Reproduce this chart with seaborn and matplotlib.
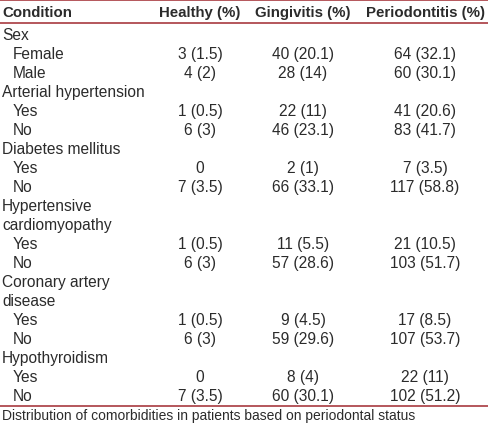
import matplotlib
matplotlib.use("Agg")
import matplotlib.pyplot as plt
import seaborn as sns

# table content
columns = ["Condition", "Healthy (%)", "Gingivitis (%)", "Periodontitis (%)"]
conditions = ["Sex", "Arterial hypertension", "Diabetes mellitus",
              "Hypertensive\ncardiomyopathy", "Coronary artery\ndisease", "Hypothyroidism"]
levels = [["Female", "Male"], ["Yes", "No"], ["Yes", "No"],
          ["Yes", "No"], ["Yes", "No"], ["Yes", "No"]]

healthy_n = [3, 4, 1, 6, 0, 7, 1, 6, 1, 6, 0, 7]
healthy_pct = [1.5, 2, 0.5, 3, 0, 3.5, 0.5, 3, 0.5, 3, 0, 3.5]
gingivitis_n = [40, 28, 22, 46, 2, 66, 11, 57, 9, 59, 8, 60]
gingivitis_pct = [20.1, 14, 11, 23.1, 1, 33.1, 5.5, 28.6, 4.5, 29.6, 4, 30.1]
perio_n = [64, 60, 41, 83, 7, 117, 21, 103, 17, 107, 22, 102]
perio_pct = [32.1, 30.1, 20.6, 41.7, 3.5, 58.8, 10.5, 51.7, 8.5, 53.7, 11, 51.2]

caption = "Distribution of comorbidities in patients based on periodontal status"


def fmt(n, p):
    if n == 0:
        return "0"
    return "{} ({:g})".format(n, p)


def main():
    sns.set_theme(style="white")
    plt.rcParams['font.family'] = ['Liberation Sans', 'DejaVu Sans']

    fig = plt.figure(figsize=(4.88, 4.27), dpi=100)
    ax = fig.add_axes([0, 0, 1, 1])
    ax.set_xlim(0, 488)
    ax.set_ylim(427, 0)
    ax.axis("off")

    red = "#a83a40"
    txt = "#2b2b2b"
    fs = 11.2
    col_x = [2, 200, 303, 425]
    row_h = 18.95

    ax.axhline(0.8, color=red, lw=1.2)
    ax.axhline(23.5, color=red, lw=1.2)
    ax.text(col_x[0], 13, columns[0], ha="left", va="center",
            fontsize=10.8, fontweight="bold", color=txt)
    for x, c in zip(col_x[1:], columns[1:]):
        ax.text(x, 13, c, ha="center", va="center",
                fontsize=10.8, fontweight="bold", color=txt)

    y = 36
    k = 0
    for cond, lv in zip(conditions, levels):
        for line in cond.split("\n"):
            ax.text(col_x[0], y, line, ha="left", va="center", fontsize=fs, color=txt)
            y += row_h
        for name in lv:
            ax.text(13, y, name, ha="left", va="center", fontsize=fs, color=txt)
            vals = [fmt(healthy_n[k], healthy_pct[k]),
                    fmt(gingivitis_n[k], gingivitis_pct[k]),
                    fmt(perio_n[k], perio_pct[k])]
            for x, v in zip(col_x[1:], vals):
                ax.text(x, y, v, ha="center", va="center", fontsize=fs, color=txt)
            y += row_h
            k += 1

    ax.axhline(406.5, color=red, lw=1.2)
    ax.text(2, 416, caption, ha="left", va="center", fontsize=10, color=txt)

    fig.savefig("out.png", dpi=100)


if __name__ == '__main__':
    main()
